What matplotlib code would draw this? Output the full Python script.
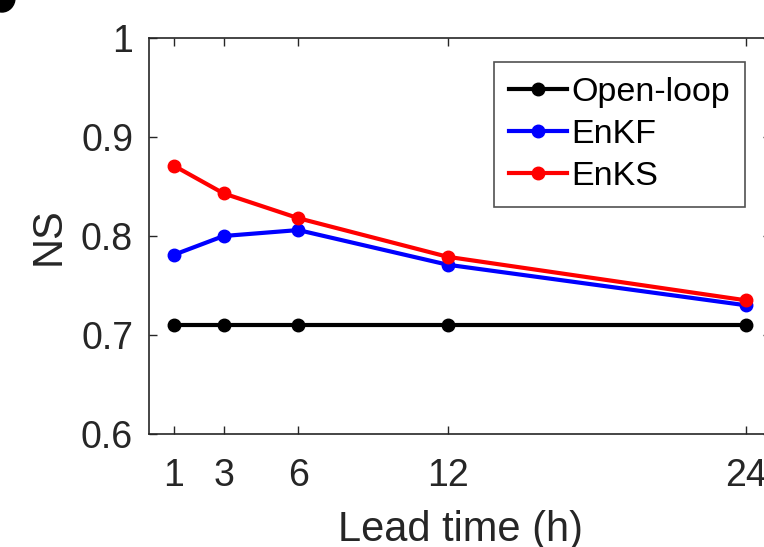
import matplotlib
matplotlib.use("Agg")
import matplotlib.pyplot as plt
from matplotlib.patches import Ellipse
from matplotlib.ticker import FuncFormatter

lead_time = [1, 3, 6, 12, 24]
open_loop = [0.710, 0.710, 0.710, 0.710, 0.710]
enkf = [0.781, 0.800, 0.806, 0.771, 0.730]
enks = [0.871, 0.843, 0.818, 0.779, 0.735]
series_names = ["Open-loop", "EnKF", "EnKS"]
y_ticks = [0.6, 0.7, 0.8, 0.9, 1.0]

plt.rcParams['font.family'] = ['Liberation Sans', 'DejaVu Sans']

fig = plt.figure(figsize=(7.64, 5.47), dpi=100)
ax = fig.add_axes([149/764, 1-434/547, 622/764, (434-38)/547])

ax.plot(lead_time, open_loop, '-o', color='black', lw=3, ms=9, label=series_names[0])
ax.plot(lead_time, enkf, '-o', color='#0000ff', lw=3, ms=9, label=series_names[1])
ax.plot(lead_time, enks, '-o', color='#ff0000', lw=3, ms=9, label=series_names[2])

ax.set_xlim(0, 25)
ax.set_ylim(0.6, 1.0)
ax.set_xticks(lead_time)
ax.set_yticks(y_ticks)
ax.yaxis.set_major_formatter(FuncFormatter(lambda v, p: f"{v:g}"))

for s in ax.spines.values():
    s.set_color('#262626')
    s.set_linewidth(1.2)
ax.tick_params(direction='in', top=True, right=True, length=6, width=1, colors='#262626',
               labelsize=27, labelcolor='#262626')
ax.tick_params(axis='x', pad=17)
ax.tick_params(axis='y', pad=11.5)

ax.set_xlabel("Lead time (h)", fontsize=30, color='#262626', labelpad=12)
ax.set_ylabel("NS", fontsize=30, color='#262626', labelpad=8.5)

leg = ax.legend(loc='upper left', bbox_to_anchor=((494-149)/622, 1-(62-38)/396),
                fontsize=24.5, frameon=True, fancybox=False, edgecolor='#262626',
                handlelength=1.7, handletextpad=0.12, borderpad=0.45, labelspacing=0.32,
                borderaxespad=0)
leg.get_frame().set_linewidth(1.2)

# partial panel label blob at the top-left corner
fig.patches.append(Ellipse((2, 547+2), 26, 28, transform=None, color='black'))

fig.savefig("out.png", dpi=100)
